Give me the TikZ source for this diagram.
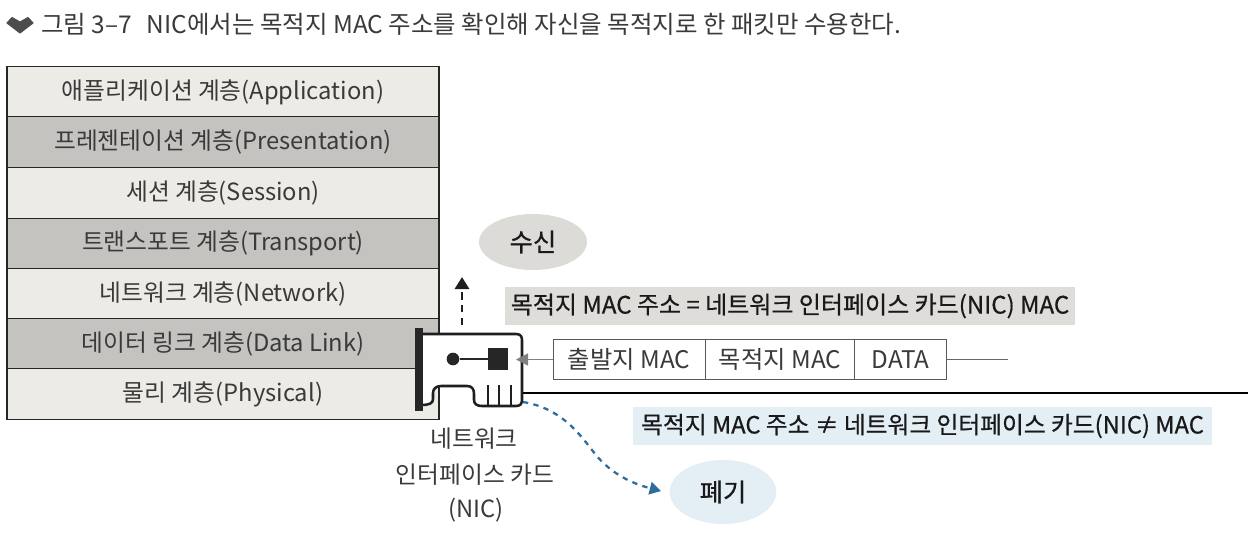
\documentclass[tikz,border=0pt]{standalone}
\usepackage{fontspec}
\setmainfont{Noto Sans CJK KR}
\newfontfamily\medf[FakeBold=0.6]{Noto Sans CJK KR}
\usetikzlibrary{arrows.meta,shapes.geometric}
\definecolor{txt}{HTML}{3A3A3A}
\definecolor{lightrow}{HTML}{EDEBE6}
\definecolor{darkrow}{HTML}{C4C3BF}
\definecolor{graylab}{HTML}{DEDDDA}
\definecolor{bluelab}{HTML}{E4EFF5}
\definecolor{blueell}{HTML}{E3EEF5}
\definecolor{grayell}{HTML}{DCDBD8}
\definecolor{bluearr}{HTML}{2F6C9E}
\tikzset{
  layerbox/.style={draw=black!85,line width=0.9pt,minimum width=324pt,minimum height=37.8pt,inner sep=0pt,text=txt,font=\fontsize{17.8}{20}\selectfont},
  lightlayer/.style={layerbox,fill=lightrow},
  darklayer/.style={layerbox,fill=darkrow},
  framebox/.style={draw=black!65,line width=0.7pt,fill=white,minimum height=30.5pt,inner sep=0pt,text=txt,font=\fontsize{18.2}{20}\selectfont},
  keylabel/.style={inner sep=0pt,text=black!90,font=\medf\fontsize{18}{20}\selectfont},
  ell/.style={ellipse,inner sep=0pt,text=black!90,font=\medf\fontsize{19}{20}\selectfont},
  niclabel/.style={inner sep=0pt,text=txt,font=\fontsize{17.8}{20}\selectfont},
}
\begin{document}
\begin{tikzpicture}[x=0.75pt,y=-0.75pt]
\useasboundingbox (0,0) rectangle (1260,544);
% title
\fill[black!70,line join=round,draw=black!70,line width=0.8pt] (7,23) -- (12,17.5) -- (20,22) -- (28,17.5) -- (33,23) -- (20,33) -- cycle;
\node[anchor=west,inner sep=0pt,text=txt,font=\fontsize{18.35}{20}\selectfont] (title) at (41,24) {그림 3–7\hspace{0.6em}NIC에서는 목적지 MAC 주소를 확인해 자신을 목적지로 한 패킷만 수용한다.};
% layers
\node[lightlayer] (l7) at (223,92) {애플리케이션 계층(Application)\hspace{2pt}};
\node[darklayer]  (l6) at (223,142) {프레젠테이션 계층(Presentation)\hspace{2pt}};
\node[lightlayer] (l5) at (223,193) {세션 계층(Session)\hspace{2pt}};
\node[darklayer]  (l4) at (223,243.5) {트랜스포트 계층(Transport)\hspace{2pt}};
\node[lightlayer] (l3) at (223,294) {네트워크 계층(Network)\hspace{2pt}};
\node[darklayer]  (l2) at (223,344) {데이터 링크 계층(Data Link)\hspace{2pt}};
\node[lightlayer] (l1) at (223,394) {물리 계층(Physical)\hspace{2pt}};
% ellipses
\node[ell,fill=grayell,minimum width=81pt,minimum height=42pt] (recv) at (533,242) {수신};
\node[ell,fill=blueell,minimum width=80pt,minimum height=48pt] (drop) at (723,492) {폐기};
% labels
\node[keylabel,fill=graylab,minimum width=427.5pt,minimum height=28.5pt] (eq) at (790,306) {목적지 MAC 주소 = 네트워크 인터페이스 카드(NIC) MAC};
\node[keylabel,font=\medf\fontsize{17.8}{20}\selectfont,fill=bluelab,minimum width=434pt,minimum height=28.5pt] (ne) at (922.5,426) {목적지 MAC 주소 ≠ 네트워크 인터페이스 카드(NIC) MAC};
% wire
\coordinate (wireend) at (1248,393);
\coordinate (wirestart) at (523,393);
\draw[black,line width=1.8pt] (wirestart) -- (wireend);
% NIC card
\draw[black!88,line width=1.9pt,fill=white,line join=round]
  (421,334) -- (516,334) .. controls (520,334) and (522,336) .. (522,340) -- (522,400)
  .. controls (522,404) and (520,406) .. (516,406) -- (482,406)
  .. controls (477,406) and (474,404) .. (474,400) -- (474,394)
  .. controls (474,389) and (472,386) .. (467,386) -- (441,386)
  .. controls (436,386) and (433,389) .. (433,393) -- (433,399)
  .. controls (433,403) and (430,405) .. (421,405);
\foreach \tx in {488,499,511} \draw[black!88,line width=1.2pt] (\tx,385) -- (\tx,406);
\node[fill=black!85,minimum width=6pt,minimum height=62pt,inner sep=0pt] (bracket) at (419,369.5) {};
\node[circle,fill=black!85,minimum size=9.5pt,inner sep=0pt] (dot) at (453,359) {};
\node[rectangle,fill=black!85,minimum width=15pt,minimum height=16.5pt,inner sep=0pt] (chip) at (498,359) {};
\draw[black!85,line width=1.2pt] (dot) -- (chip);
% frame
\node[framebox,minimum width=114pt] (src) at (629,359.5) {출발지 MAC};
\node[framebox,minimum width=112.5pt] (dst) at (780,359.5) {목적지 MAC};
\node[framebox,minimum width=68.5pt] (data) at (900.5,359.5) {DATA};
\coordinate (tail) at (1008,359.5);
\draw[black!60,line width=0.7pt] (data.east) -- (tail);
\coordinate (arrowtip) at (516,359.5);
\draw[black!50,line width=0.9pt,-{Triangle[length=9pt,width=9pt,fill=black!50]}] (src.west) -- (arrowtip);
% arrows
\coordinate (upstart) at (462,325);
\coordinate (upend) at (462,277);
\draw[black!88,line width=2.2pt,dash pattern=on 5.5pt off 4pt,-{Triangle[length=9pt,width=10.5pt]}] (upstart) -- (upend);
\coordinate (dashstart) at (523,402);
\coordinate (dashend) at (661,491);
\draw[bluearr,line width=1.7pt,dash pattern=on 4pt off 4pt,-{Triangle[length=8.5pt,width=9.5pt]}] (dashstart) .. controls (560,408) and (578,432) .. (592,450) .. controls (608,472) and (630,483) .. (dashend);
% NIC caption
\node[niclabel] (nic1) at (474,439) {네트워크};
\node[niclabel] (nic2) at (475,475) {인터페이스 카드};
\node[niclabel] (nic3) at (476,510) {(NIC)};
\end{tikzpicture}
\end{document}
